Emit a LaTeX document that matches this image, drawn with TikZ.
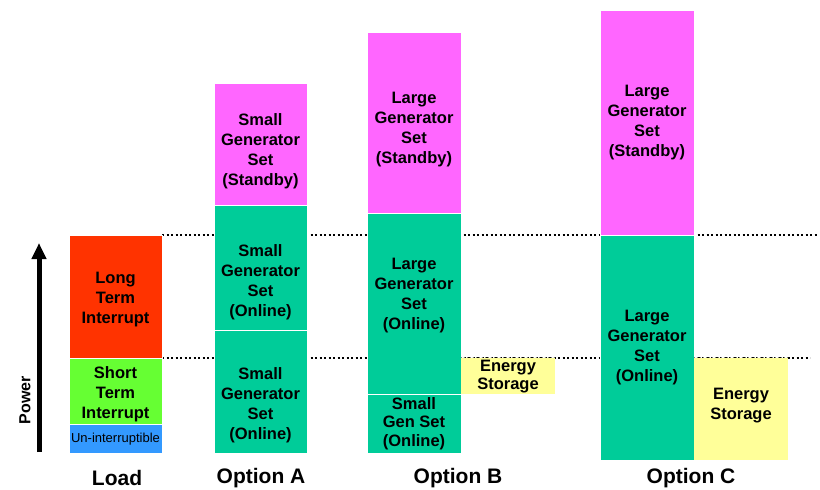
\documentclass[tikz,border=0pt]{standalone}
\usepackage{fontspec}
\setmainfont{Liberation Sans}
\usetikzlibrary{arrows.meta}
\definecolor{cred}{HTML}{FF3300}
\definecolor{cgreen}{HTML}{66FF33}
\definecolor{cblue}{HTML}{3399FF}
\definecolor{cpink}{HTML}{FF66FF}
\definecolor{cteal}{HTML}{00CC99}
\definecolor{cyel}{HTML}{FFFF99}
\begin{document}
\begin{tikzpicture}[x=1pt,y=-1pt,
  bx/.style={draw=white,line width=1pt,fill=#1,inner sep=0pt},
  txt/.style={inner sep=0pt,align=center,font=\fontsize{16.5}{20}\selectfont\bfseries},
  tighttxt/.style={inner sep=0pt,align=center,font=\fontsize{16.5}{#1}\selectfont\bfseries},
  tx/.style 2 args={label={[txt,yshift=#1]center:{#2}}},
  ttx/.style n args={3}{label={[tighttxt=#1,yshift=#2]center:{#3}}},
  lbl/.style={font=\fontsize{21}{24}\selectfont\bfseries},
  dotline/.style={line width=2pt,dash pattern=on 2pt off 2.5pt},
  thindot/.style={line width=0.6pt,gray,dash pattern=on 1.5pt off 1.5pt}]
\useasboundingbox (0,0) rectangle (820,490);
% dotted reference lines
\coordinate (d1s) at (162,235);
\coordinate (d1e) at (818,235);
\coordinate (d2s) at (162,358);
\coordinate (d2e) at (810,358);
\draw[dotline] (d1s) -- (d1e);
\draw[dotline] (d2s) -- (d2e);
% Load
\node[bx=cred,minimum width=93pt,minimum height=123pt,tx={-3.5pt}{Long\\Term\\Interrupt}] (LR) at (115.5,296.5) {};
\node[bx=cgreen,minimum width=93pt,minimum height=66pt,tx={-3pt}{Short\\Term\\Interrupt}] (LS) at (115.5,391) {};
\node[bx=cblue,minimum width=93pt,minimum height=29pt,font=\fontsize{13}{15}\selectfont] (LU) at (115.5,439) {Un-interruptible};
% Option A
\node[bx=cpink,minimum width=93pt,minimum height=122pt,tx={-7pt}{Small\\Generator\\Set\\(Standby)}] (AP) at (260.5,144) {};
\node[bx=cteal,minimum width=93pt,minimum height=125pt,tx={-15pt}{Small\\Generator\\Set\\(Online)}] (AO1) at (260.5,267.5) {};
\node[bx=cteal,minimum width=93pt,minimum height=123pt,tx={-14pt}{Small\\Generator\\Set\\(Online)}] (AO2) at (260.5,391.5) {};
% Option B
\node[bx=cpink,minimum width=94pt,minimum height=181pt,tx={-7pt}{Large\\Generator\\Set\\(Standby)}] (BP) at (414,122.5) {};
\node[bx=cteal,minimum width=94pt,minimum height=181pt,tx={8pt}{Large\\Generator\\Set\\(Online)}] (BO) at (414,303.5) {};
\node[bx=cteal,minimum width=94pt,minimum height=59pt,ttx={18.5}{0pt}{Small\\Gen Set\\(Online)}] (BS) at (414,423.5) {};
\node[bx=cyel,draw=none,minimum width=94pt,minimum height=36pt,ttx={17.5}{-0.5pt}{Energy\\Storage}] (BE) at (508,376) {};
% Option C
\node[bx=cpink,minimum width=94pt,minimum height=225pt,tx={0pt}{Large\\Generator\\Set\\(Standby)}] (CP) at (647,122.5) {};
\node[bx=cteal,minimum width=94pt,minimum height=225pt,tx={0pt}{Large\\Generator\\Set\\(Online)}] (CO) at (647,347.5) {};
\node[bx=cyel,draw=none,minimum width=94pt,minimum height=102pt,tx={3pt}{Energy\\Storage}] (CE) at (741,409) {};
\draw[thindot] (BE.north west) -- (BE.north east);
\draw[thindot] (CE.north west) -- (CE.north east);
% Power axis
\coordinate (pa) at (39,452);
\coordinate (pb) at (39,243);
\draw[line width=5pt,-{Triangle[width=14pt,length=16pt]}] (pa) -- (pb);
\node[rotate=90,font=\fontsize{16}{18}\selectfont\bfseries] (pw) at (25,400) {Power};
% labels
\node[lbl] (tL) at (117,478) {Load};
\node[lbl] (tA) at (261,478) {Option A};
\node[lbl] (tB) at (458,478) {Option B};
\node[lbl] (tC) at (691,478) {Option C};
\end{tikzpicture}
\end{document}
